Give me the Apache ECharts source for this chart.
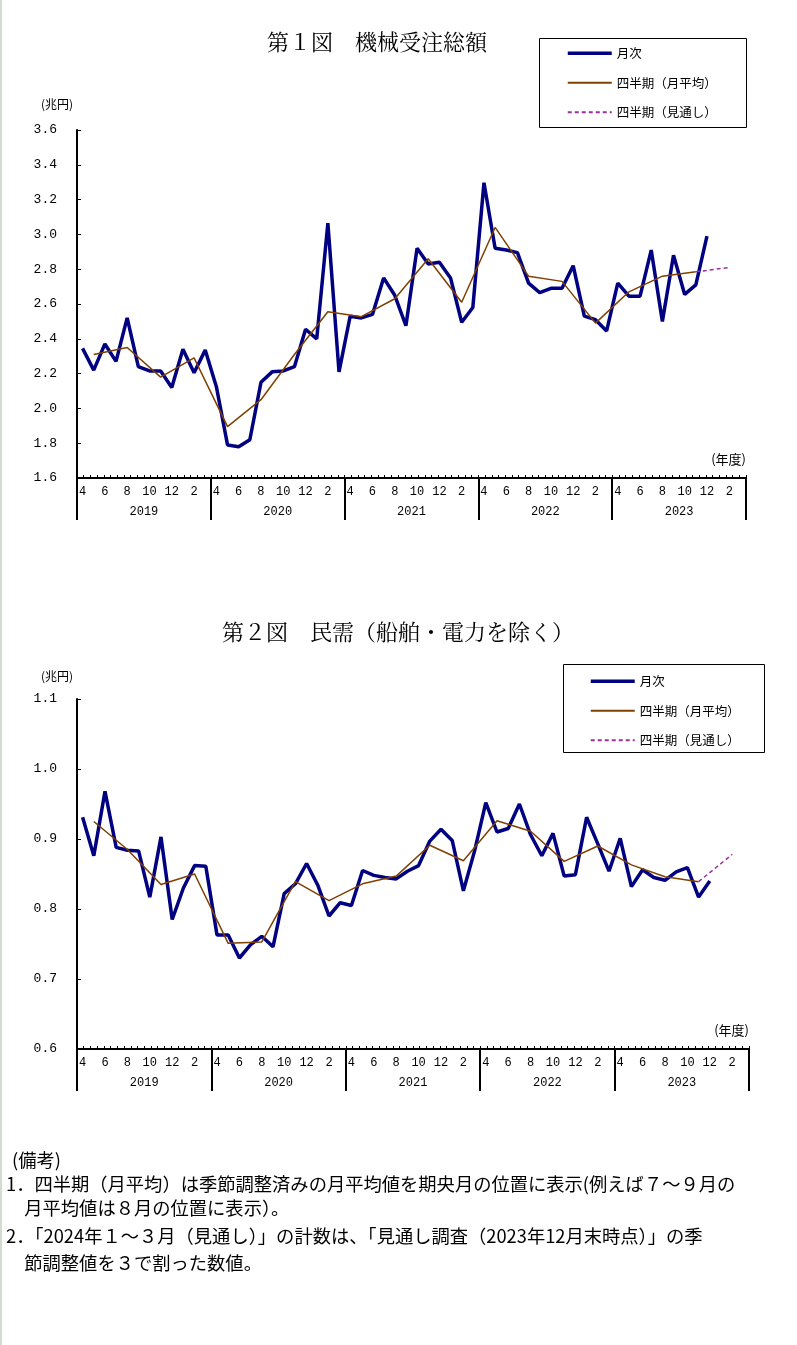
<!DOCTYPE html>
<html><head><meta charset="utf-8">
<script src="https://cdn.jsdelivr.net/npm/echarts@6/dist/echarts.min.js"></script>
<style>html,body{margin:0;padding:0;background:#fff}#c{width:797px;height:1345px}</style>
</head><body><div id="c"></div>
<script>
// ---- data ----
const fiscalYears = ['2019', '2020', '2021', '2022', '2023'];
const monthNums = [4, 5, 6, 7, 8, 9, 10, 11, 12, 1, 2, 3];
const seriesNames = ['月次', '四半期（月平均）', '四半期（見通し）'];

// Fig.1 machinery orders total (trillion yen), Apr 2019 - Dec 2023
const c1Monthly = [
  2.345, 2.22, 2.37, 2.27, 2.52, 2.24, 2.215, 2.215, 2.12, 2.34, 2.205, 2.335,
  2.125, 1.79, 1.78, 1.82, 2.15, 2.21, 2.215, 2.24, 2.455, 2.40, 3.065, 2.21,
  2.53, 2.52, 2.54, 2.75, 2.65, 2.475, 2.92, 2.83, 2.84, 2.75, 2.495, 2.58,
  3.297, 2.92, 2.91, 2.895, 2.72, 2.665, 2.69, 2.69, 2.82, 2.53, 2.51, 2.445,
  2.72, 2.645, 2.645, 2.91, 2.50, 2.88, 2.655, 2.71, 2.99
];
// quarterly monthly average, plotted at the middle month (May, Aug, Nov, Feb)
const c1Quarterly = [2.31, 2.35, 2.18, 2.29, 1.895, 2.05, 2.31, 2.555, 2.527, 2.63,
  2.86, 2.61, 3.04, 2.76, 2.73, 2.49, 2.67, 2.76, 2.785];
// outlook: from Oct-Dec 2023 quarter to Jan-Mar 2024 outlook
const c1Outlook = [2.785, 2.81];

// Fig.2 private demand excl. ships & electric power (trillion yen)
const c2Monthly = [
  0.931, 0.876, 0.968, 0.888, 0.884, 0.883, 0.817, 0.903, 0.785, 0.830, 0.862, 0.861,
  0.763, 0.763, 0.730, 0.749, 0.761, 0.746, 0.822, 0.836, 0.865, 0.834, 0.790, 0.809,
  0.805, 0.855, 0.848, 0.845, 0.843, 0.854, 0.862, 0.897, 0.914, 0.898, 0.826, 0.883,
  0.952, 0.910, 0.915, 0.950, 0.906, 0.876, 0.908, 0.847, 0.849, 0.931, 0.893, 0.854,
  0.901, 0.832, 0.856, 0.845, 0.841, 0.853, 0.859, 0.817, 0.840
];
const c2Quarterly = [0.925, 0.885, 0.835, 0.850, 0.751, 0.753, 0.839, 0.812, 0.836, 0.847,
  0.891, 0.869, 0.926, 0.911, 0.868, 0.890, 0.863, 0.846, 0.839];
const c2Outlook = [0.839, 0.878];

const c1YTicks = { min: 1.6, max: 3.6, interval: 0.2 };
const c2YTicks = { min: 0.6, max: 1.1, interval: 0.1 };

// ---- build ----
const categories = [];
fiscalYears.forEach(y => monthNums.forEach(m => categories.push(y + '-' + m)));
const N = categories.length;

function quarterSeries(q) {
  const a = new Array(N).fill(null);
  q.forEach((v, k) => { a[1 + 3 * k] = v; });
  return a;
}
function outlookSeries(o) {
  const a = new Array(N).fill(null);
  a[55] = o[0]; a[58] = o[1];
  return a;
}
function monthlySeries(m) {
  const a = new Array(N).fill(null);
  m.forEach((v, i) => { a[i] = v; });
  return a;
}

const jp = "'Noto Sans CJK JP', sans-serif";
const serif = "'Noto Serif CJK JP', 'Noto Sans CJK JP', serif";
const mono = "'Liberation Mono', 'DejaVu Sans Mono', monospace";
const BLUE = '#000080', BROWN = '#7f4000', PURPLE = '#993399';

function xAxesFor(gi) {
  return [
    {
      gridIndex: gi, type: 'category', data: categories, boundaryGap: true, position: 'bottom',
      axisLine: { show: true, onZero: false, lineStyle: { color: '#000', width: 2 } },
      axisTick: { show: false },
      axisLabel: { interval: 1, formatter: v => v.split('-')[1], margin: 8, fontSize: 12,
        fontFamily: mono, color: '#000' },
      splitLine: { show: false }
    },
    {
      gridIndex: gi, type: 'category', data: fiscalYears, boundaryGap: true, position: 'bottom',
      axisLine: { show: false, onZero: false },
      axisTick: { show: true, length: 42, lineStyle: { color: '#000', width: 2 } },
      axisLabel: { margin: 28, fontSize: 12, fontFamily: mono, color: '#000' },
      splitLine: { show: false }
    },
    {
      gridIndex: gi, type: 'value', min: 0, max: 100, interval: 1, position: 'bottom',
      axisLine: { show: false, onZero: false },
      axisTick: { show: true, inside: true, length: 3, lineStyle: { color: '#000', width: 1 } },
      axisLabel: { show: false }, splitLine: { show: false }
    }
  ];
}
function yAxisFor(gi, t) {
  return {
    gridIndex: gi, type: 'value', min: t.min, max: t.max, interval: t.interval,
    axisLine: { show: true, lineStyle: { color: '#000', width: 2 } },
    axisTick: { show: true, inside: true, length: 4, lineStyle: { color: '#000' } },
    axisLabel: { formatter: v => v.toFixed(1), margin: 20, fontSize: 13, fontFamily: mono, color: '#000' },
    splitLine: { show: false }
  };
}
function seriesFor(gi, m, q, o) {
  return [
    { name: seriesNames[0], type: 'line', xAxisIndex: gi * 3, yAxisIndex: gi, data: monthlySeries(m),
      symbol: 'none', z: 3, lineStyle: { color: BLUE, width: 3.5 }, itemStyle: { color: BLUE } },
    { name: seriesNames[1], type: 'line', xAxisIndex: gi * 3, yAxisIndex: gi, data: quarterSeries(q),
      connectNulls: true, symbol: 'none', z: 4, lineStyle: { color: BROWN, width: 1.5 }, itemStyle: { color: BROWN } },
    { name: seriesNames[2], type: 'line', xAxisIndex: gi * 3, yAxisIndex: gi, data: outlookSeries(o),
      connectNulls: true, symbol: 'none', z: 4, lineStyle: { color: PURPLE, width: 1.5, type: [4, 3] }, itemStyle: { color: PURPLE } }
  ];
}
function legendAt(left, top) {
  return {
    data: [
      { name: seriesNames[0], lineStyle: { width: 3.5, color: BLUE } },
      { name: seriesNames[1], lineStyle: { width: 2, color: BROWN } },
      { name: seriesNames[2], lineStyle: { width: 2, color: PURPLE, type: [4, 3] } }
    ],
    orient: 'vertical', left: left, top: top, itemWidth: 44, itemHeight: 14,
    itemGap: 17, selectedMode: false, padding: 0,
    itemStyle: { opacity: 0, color: 'rgba(0,0,0,0)', borderWidth: 0 },
    textStyle: { fontSize: 12.5, fontFamily: jp, color: '#000' }
  };
}
function txt(x, y, s, size, align, family) {
  return { type: 'text', x: x, y: y, z: 10,
    style: { text: s, fontSize: size, fontFamily: family || jp, fill: '#000', align: align || 'left', verticalAlign: 'middle' } };
}

const notes = [
  ['(備考)', 12, 1160],
  ['1．四半期（月平均）は季節調整済みの月平均値を期央月の位置に表示(例えば７～９月の', 6, 1184],
  ['　月平均値は８月の位置に表示）。', 6, 1208],
  ['2．「2024年１～３月（見通し）」の計数は、「見通し調査（2023年12月末時点）」の季', 6, 1236],
  ['　節調整値を３で割った数値。', 6, 1263]
];

const graphics = [
  { type: 'rect', z: 0, shape: { x: 0, y: 0, width: 2, height: 1345 }, style: { fill: '#d3dbd3' } },
  { type: 'rect', z: 0, shape: { x: 539.5, y: 38.5, width: 207, height: 89 }, style: { fill: '#fff', stroke: '#000', lineWidth: 1 } },
  { type: 'rect', z: 0, shape: { x: 563.5, y: 664.5, width: 201, height: 88 }, style: { fill: '#fff', stroke: '#000', lineWidth: 1 } },
  txt(377, 42, '第１図　機械受注総額', 22, 'center', serif),
  txt(398, 632, '第２図　民需（船舶・電力を除く）', 22, 'center', serif),
  txt(57, 104, '(兆円)', 12, 'center'),
  txt(57, 676, '(兆円)', 12, 'center'),
  txt(746, 459, '(年度)', 13, 'right'),
  txt(749, 1030, '(年度)', 13, 'right')
].concat(notes.map(n => txt(n[1], n[2], n[0], 18.3, 'left')));

const option = {
  animation: false,
  backgroundColor: '#fff',
  grid: [
    { left: 77, top: 130, width: 669, height: 348 },
    { left: 77, top: 699, width: 672, height: 350 }
  ],
  xAxis: xAxesFor(0).concat(xAxesFor(1)),
  yAxis: [yAxisFor(0, c1YTicks), yAxisFor(1, c2YTicks)],
  legend: [legendAt(566, 47), legendAt(589, 675)],
  graphic: graphics,
  series: seriesFor(0, c1Monthly, c1Quarterly, c1Outlook).concat(seriesFor(1, c2Monthly, c2Quarterly, c2Outlook))
};

const chart = echarts.init(document.getElementById('c'), null, { renderer: 'canvas' });
chart.setOption(option);
</script>
</body></html>
